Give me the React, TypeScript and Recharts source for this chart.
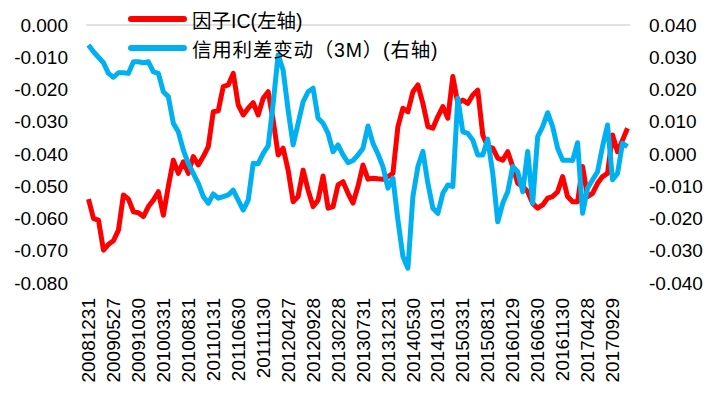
import { LineChart, Line, XAxis, YAxis, ReferenceLine } from 'recharts'

// month-end trade dates, Dec 2008 .. Dec 2017
const dates = [
  '20081231',
  '20090123', '20090227', '20090331', '20090430', '20090527', '20090630', '20090731', '20090831', '20090930', '20091030', '20091130', '20091231',
  '20100129', '20100226', '20100331', '20100430', '20100531', '20100630', '20100730', '20100831', '20100930', '20101029', '20101130', '20101231',
  '20110131', '20110228', '20110331', '20110429', '20110531', '20110630', '20110729', '20110831', '20110930', '20111031', '20111130', '20111230',
  '20120131', '20120229', '20120330', '20120427', '20120531', '20120629', '20120731', '20120831', '20120928', '20121031', '20121130', '20121231',
  '20130131', '20130228', '20130329', '20130426', '20130531', '20130628', '20130731', '20130830', '20130930', '20131031', '20131129', '20131231',
  '20140130', '20140228', '20140331', '20140430', '20140530', '20140630', '20140731', '20140829', '20140930', '20141031', '20141128', '20141231',
  '20150130', '20150227', '20150331', '20150430', '20150529', '20150630', '20150731', '20150831', '20150930', '20151030', '20151130', '20151231',
  '20160129', '20160229', '20160331', '20160429', '20160531', '20160630', '20160729', '20160831', '20160930', '20161031', '20161130', '20161230',
  '20170126', '20170228', '20170331', '20170428', '20170531', '20170630', '20170731', '20170831', '20170929', '20171031', '20171130', '20171229',
]

// factor IC (left axis)
const factorIC = [
  -0.054, -0.06, -0.0605, -0.0698, -0.068, -0.0669, -0.0636, -0.0527, -0.054, -0.0579,
  -0.0582, -0.0594, -0.0563, -0.0543, -0.0517, -0.059, -0.05, -0.0419, -0.046, -0.0424,
  -0.046, -0.0408, -0.0434, -0.0408, -0.0377, -0.0269, -0.0266, -0.0191, -0.0186, -0.015,
  -0.0248, -0.0279, -0.0258, -0.0241, -0.0279, -0.0227, -0.0207, -0.0295, -0.0403, -0.0382,
  -0.045, -0.0548, -0.0532, -0.045, -0.0512, -0.0563, -0.0543, -0.0468, -0.0568, -0.0563,
  -0.0496, -0.0486, -0.0522, -0.0552, -0.05, -0.0434, -0.0478, -0.0475, -0.0477, -0.0478,
  -0.047, -0.046, -0.0315, -0.0258, -0.0269, -0.0207, -0.0186, -0.0243, -0.0315, -0.032,
  -0.0284, -0.0253, -0.0289, -0.016, -0.0243, -0.0233, -0.0243, -0.0217, -0.0202, -0.0341,
  -0.0377, -0.0382, -0.0413, -0.0419, -0.0393, -0.0439, -0.0491, -0.05, -0.0517, -0.0553,
  -0.0568, -0.0558, -0.0537, -0.0532, -0.0517, -0.047, -0.0532, -0.0548, -0.0548, -0.0439,
  -0.0532, -0.0522, -0.0491, -0.047, -0.046, -0.0341, -0.0393, -0.0357, -0.032,
]

// 3M credit spread change (right axis)
const spreadChg = [
  0.0338, 0.0317, 0.03, 0.0283, 0.025, 0.0238, 0.0252, 0.0252, 0.025, 0.0286,
  0.0286, 0.0283, 0.0286, 0.0255, 0.025, 0.0193, 0.0178, 0.0095, 0.0069, 0.0012,
  -0.0029, -0.006, -0.0091, -0.0132, -0.0153, -0.0124, -0.0137, -0.0132, -0.0127, -0.0112,
  -0.0143, -0.0174, -0.0143, -0.0029, -0.003, 0.0002, 0.0025, 0.0157, 0.0307, 0.026,
  0.0136, 0.0028, 0.0095, 0.0162, 0.0193, 0.0204, 0.0111, 0.0095, 0.0064, 0.0007,
  0.0028, -0.0003, -0.0027, -0.002, -0.0003, 0.0018, 0.0087, 0.0033, 0.0, -0.0039,
  -0.0106, -0.0075, -0.0205, -0.0318, -0.0354, -0.0132, -0.0039, 0.0008, -0.0091, -0.0168,
  -0.0184, -0.0122, -0.0096, -0.0101, 0.0173, 0.0069, 0.0064, 0.0043, -0.0003, -0.0003,
  0.0046, -0.006, -0.021, -0.0153, -0.0117, -0.0039, -0.0055, -0.0117, 0.0008, -0.0153,
  0.0054, 0.0085, 0.0128, 0.0085, 0.0018, -0.0019, -0.0019, -0.002, 0.0035, -0.0184,
  -0.0106, -0.008, -0.0055, 0.0023, 0.009, -0.008, -0.006, 0.0033, 0.0023,
]

const seriesNames = ['因子IC(左轴)', '信用利差变动（3M）(右轴)']
const seriesColors = ['#ff0000', '#00b0f0']
const leftTicks = [0, -0.01, -0.02, -0.03, -0.04, -0.05, -0.06, -0.07, -0.08]
const rightTicks = [0.04, 0.03, 0.02, 0.01, 0, -0.01, -0.02, -0.03, -0.04]

const FONT = '"Liberation Sans", Arial, "Noto Sans CJK SC", sans-serif'

const data = dates.map((d, i) => ({ date: d, ic: factorIC[i], spread: spreadChg[i] }))

const fmt = (v: number) => v.toFixed(3)

function DateTick({ x, y, payload }: any) {
  return (
    <text
      x={x}
      y={y}
      transform={`rotate(-90 ${x} ${y})`}
      textAnchor="end"
      dy="0.35em"
      fontSize={19}
      fontFamily={FONT}
      fill="#000"
    >
      {payload.value}
    </text>
  )
}

export default function App() {
  const tickStyle = { fontSize: 19, fill: '#000', fontFamily: FONT }
  return (
    <div style={{ position: 'absolute', left: 0, top: 0, width: 717, height: 396, background: '#fff' }}>
      <LineChart width={717} height={396} data={data} margin={{ top: 25, right: 0, bottom: 0, left: 0 }}>
        <XAxis
          dataKey="date"
          interval={4}
          height={113}
          padding={{ left: 2.5, right: 2.5 }}
          axisLine={false}
          tickLine={false}
          tickSize={0}
          tickMargin={15}
          tick={<DateTick />}
        />
        <YAxis
          yAxisId="left"
          width={86}
          domain={[-0.08, 0]}
          ticks={leftTicks}
          tickFormatter={fmt}
          axisLine={false}
          tickLine={false}
          tickSize={0}
          tickMargin={18}
          tick={tickStyle}
        />
        <YAxis
          yAxisId="right"
          orientation="right"
          width={87}
          domain={[-0.04, 0.04]}
          ticks={rightTicks}
          tickFormatter={fmt}
          axisLine={false}
          tickLine={false}
          tickSize={0}
          tickMargin={19}
          tick={tickStyle}
        />
        <ReferenceLine yAxisId="left" y={0} stroke="#d9d9d9" strokeWidth={1.5} />
        <Line
          yAxisId="left"
          dataKey="ic"
          stroke={seriesColors[0]}
          strokeWidth={5}
          dot={false}
          strokeLinejoin="round"
          isAnimationActive={false}
        />
        <Line
          yAxisId="right"
          dataKey="spread"
          stroke={seriesColors[1]}
          strokeWidth={5}
          dot={false}
          strokeLinejoin="round"
          isAnimationActive={false}
        />
      </LineChart>
      {seriesNames.map((name, i) => (
        <div
          key={name}
          style={{
            position: 'absolute',
            left: 128,
            top: i === 0 ? 6 : 35,
            height: 26,
            display: 'flex',
            alignItems: 'center',
            fontFamily: FONT,
            fontSize: 19.5,
            letterSpacing: i === 0 ? 0 : 0.8,
            color: '#000',
            whiteSpace: 'pre',
          }}
        >
          <div style={{ width: 59, height: 6, borderRadius: 3, background: seriesColors[i], marginRight: 5 }} />
          <span>{name}</span>
        </div>
      ))}
    </div>
  )
}
